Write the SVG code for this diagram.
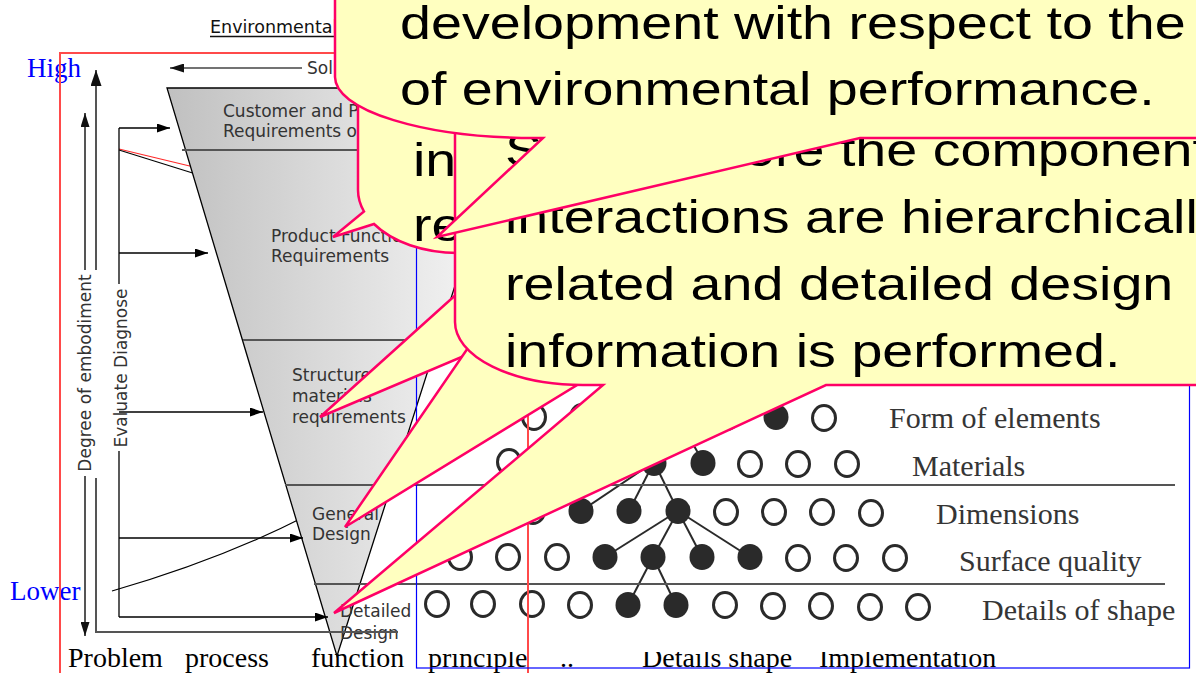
<svg xmlns="http://www.w3.org/2000/svg" width="1196" height="673" viewBox="0 0 1196 673">
<style>
.lbl{font-family:"DejaVu Sans",Verdana,sans-serif;font-size:17px;fill:#333}
.ttl{font-family:"DejaVu Sans",Verdana,sans-serif;font-size:17.5px;fill:#111}
.ser{font-family:"Liberation Serif","Times New Roman",serif;font-size:28px;fill:#000}
.scan{font-family:"Liberation Serif","Times New Roman",serif;font-size:30px;fill:#353535}
.blue{font-family:"Liberation Serif","Times New Roman",serif;font-size:27px;fill:#0000ff}
.co{fill:#FFFFC0;stroke:#FF0066;stroke-width:2.5;stroke-linejoin:miter}
.ct{font-family:"Liberation Sans",Arial,sans-serif;font-size:46px;fill:#000}
.arr{stroke:#000;stroke-width:1.3;fill:none;marker-end:url(#ah)}
.ax{stroke:#555;stroke-width:2;fill:none}
.div{stroke:#555;stroke-width:2}
.op{fill:#fff;stroke:#2a2a2a;stroke-width:3}
.fl{fill:#2a2a2a}
.tr{stroke:#2a2a2a;stroke-width:2}
</style>
<defs>
<linearGradient id="fg" gradientUnits="userSpaceOnUse" x1="167" y1="0" x2="470" y2="0">
<stop offset="0" stop-color="#c0c0c0"/><stop offset="1" stop-color="#f2f2f2"/>
</linearGradient>
<marker id="ah" markerUnits="userSpaceOnUse" markerWidth="13" markerHeight="9" refX="13" refY="4.5" orient="auto"><path d="M0,0 L13,4.5 L0,9 Z" fill="#000"/></marker>
<marker id="ahg" markerUnits="userSpaceOnUse" markerWidth="14" markerHeight="9" refX="14" refY="4.5" orient="auto"><path d="M0,0 L14,4.5 L0,9 Z" fill="#111"/></marker>
<marker id="ahb" markerUnits="userSpaceOnUse" markerWidth="16" markerHeight="11" refX="16" refY="5.5" orient="auto"><path d="M0,0 L16,5.5 L0,11 Z" fill="#111"/></marker>
</defs>
<rect width="1196" height="673" fill="#fff"/>

<g id="title">
<text class="ttl" x="210" y="33">Environmental</text>
<line x1="210" y1="36.5" x2="340" y2="36.5" stroke="#111" stroke-width="1.3"/>
</g>

<g id="axis-labels">
<text class="ser" x="68" y="667">Problem</text>
<text class="ser" x="185" y="667">process</text>
<text class="ser" x="311" y="667">function</text>
<text class="ser" x="428" y="667">principle</text>
<text class="ser" x="560" y="667">..</text>
<text class="ser" x="642" y="667">Details shape</text>
<text class="ser" x="819" y="667">Implementation</text>
</g>

<g id="scan">
<rect x="417" y="140" width="772" height="512" fill="#fff"/>
<g id="tree-lines">
<line class="tr" x1="678" y1="417" x2="654" y2="462"/>
<line class="tr" x1="678" y1="417" x2="703" y2="462"/>
<line class="tr" x1="654" y1="462" x2="581" y2="511"/>
<line class="tr" x1="654" y1="462" x2="629" y2="511"/>
<line class="tr" x1="654" y1="462" x2="678" y2="511"/>
<line class="tr" x1="678" y1="511" x2="605" y2="557"/>
<line class="tr" x1="678" y1="511" x2="653" y2="557"/>
<line class="tr" x1="678" y1="511" x2="702" y2="557"/>
<line class="tr" x1="678" y1="511" x2="750" y2="557"/>
<line class="tr" x1="653" y1="557" x2="628" y2="605"/>
<line class="tr" x1="653" y1="557" x2="676" y2="605"/>
</g>
<g id="row1">
<ellipse class="op" cx="534" cy="417" rx="11.5" ry="12.5"/>
<ellipse class="op" cx="582" cy="417" rx="11.5" ry="12.5"/>
<ellipse class="op" cx="630" cy="417" rx="11.5" ry="12.5"/>
<ellipse class="fl" cx="678" cy="417" rx="12.5" ry="13"/>
<ellipse class="op" cx="727" cy="417" rx="11.5" ry="12.5"/>
<ellipse class="fl" cx="776" cy="417" rx="12.5" ry="13"/>
<ellipse class="op" cx="824" cy="418" rx="11.5" ry="12.5"/>
<text class="scan" x="889" y="428">Form of elements</text>
</g>
<g id="row2">
<ellipse class="op" cx="509" cy="462" rx="11.5" ry="12.5"/>
<ellipse class="op" cx="557" cy="462" rx="11.5" ry="12.5"/>
<ellipse class="op" cx="606" cy="462" rx="11.5" ry="12.5"/>
<ellipse class="fl" cx="654" cy="463" rx="12.5" ry="13"/>
<ellipse class="fl" cx="703" cy="463" rx="12.5" ry="13"/>
<ellipse class="op" cx="750" cy="464" rx="11.5" ry="12.5"/>
<ellipse class="op" cx="798" cy="464" rx="11.5" ry="12.5"/>
<ellipse class="op" cx="847" cy="464" rx="11.5" ry="12.5"/>
<text class="scan" x="912" y="476">Materials</text>
</g>
<g id="row3">
<ellipse class="op" cx="484" cy="511" rx="11.5" ry="12.5"/>
<ellipse class="op" cx="533" cy="511" rx="11.5" ry="12.5"/>
<ellipse class="fl" cx="581" cy="511" rx="12.5" ry="13"/>
<ellipse class="fl" cx="629" cy="511" rx="12.5" ry="13"/>
<ellipse class="fl" cx="678" cy="511" rx="12.5" ry="13"/>
<ellipse class="op" cx="726" cy="512" rx="11.5" ry="12.5"/>
<ellipse class="op" cx="774" cy="512" rx="11.5" ry="12.5"/>
<ellipse class="op" cx="822" cy="512" rx="11.5" ry="12.5"/>
<ellipse class="op" cx="871" cy="513" rx="11.5" ry="12.5"/>
<text class="scan" x="936" y="524">Dimensions</text>
</g>
<g id="row4">
<ellipse class="op" cx="460" cy="557" rx="11.5" ry="12.5"/>
<ellipse class="op" cx="508" cy="557" rx="11.5" ry="12.5"/>
<ellipse class="op" cx="557" cy="557" rx="11.5" ry="12.5"/>
<ellipse class="fl" cx="605" cy="557" rx="12.5" ry="13"/>
<ellipse class="fl" cx="653" cy="557" rx="12.5" ry="13"/>
<ellipse class="fl" cx="702" cy="557" rx="12.5" ry="13"/>
<ellipse class="fl" cx="750" cy="557" rx="12.5" ry="13"/>
<ellipse class="op" cx="798" cy="558" rx="11.5" ry="12.5"/>
<ellipse class="op" cx="846" cy="558" rx="11.5" ry="12.5"/>
<ellipse class="op" cx="895" cy="558" rx="11.5" ry="12.5"/>
<text class="scan" x="959" y="571">Surface quality</text>
</g>
<g id="row5">
<ellipse class="op" cx="437" cy="604" rx="11.5" ry="12.5"/>
<ellipse class="op" cx="483" cy="604" rx="11.5" ry="12.5"/>
<ellipse class="op" cx="532" cy="604" rx="11.5" ry="12.5"/>
<ellipse class="op" cx="580" cy="605" rx="11.5" ry="12.5"/>
<ellipse class="fl" cx="628" cy="605" rx="12.5" ry="13"/>
<ellipse class="fl" cx="676" cy="605" rx="12.5" ry="13"/>
<ellipse class="op" cx="725" cy="605" rx="11.5" ry="12.5"/>
<ellipse class="op" cx="773" cy="606" rx="11.5" ry="12.5"/>
<ellipse class="op" cx="821" cy="606" rx="11.5" ry="12.5"/>
<ellipse class="op" cx="870" cy="607" rx="11.5" ry="12.5"/>
<ellipse class="op" cx="918" cy="607" rx="11.5" ry="12.5"/>
<text class="scan" x="982" y="620">Details of shape</text>
</g>
</g>

<g id="flow-curves">
<line x1="119" y1="149" x2="198" y2="168" stroke="#ff2a2a" stroke-width="1.2"/>
<line x1="119" y1="150" x2="199" y2="175" stroke="#000" stroke-width="1.2"/>
<path d="M112,591 Q220,560 306,516" fill="none" stroke="#000" stroke-width="1.2"/>
</g>

<g id="funnel">
<polygon points="167,88 518,88 337,656" fill="url(#fg)" stroke="#000" stroke-width="1.3"/>
<line class="div" x1="182" y1="150" x2="510" y2="150"/>
<line class="div" x1="243" y1="340" x2="440" y2="340"/>
<line class="div" x1="285" y1="485" x2="1175" y2="485"/>
<line class="div" x1="314" y1="584" x2="1165" y2="584"/>
</g>

<g id="stage-customer">
<text class="lbl" x="223" y="117">Customer and Product</text>
<text class="lbl" x="223" y="137">Requirements of</text>
</g>
<g id="stage-product">
<text class="lbl" x="271" y="242">Product Function</text>
<text class="lbl" x="271" y="262">Requirements</text>
</g>
<g id="stage-structure">
<text class="lbl" x="292" y="381">Structure</text>
<text class="lbl" x="292" y="402">materials</text>
<text class="lbl" x="292" y="423">requirements</text>
</g>
<g id="stage-general">
<text class="lbl" x="312" y="520">General</text>
<text class="lbl" x="312" y="540">Design</text>
</g>
<g id="stage-detailed">
<text class="lbl" x="340" y="617">Detailed</text>
<text class="lbl" x="340" y="639">Design</text>
</g>

<g id="connectors">
<line x1="85" y1="270" x2="85" y2="113" stroke="#555" stroke-width="2" marker-end="url(#ahg)"/>
<line x1="85" y1="476" x2="85" y2="636" stroke="#555" stroke-width="2" marker-end="url(#ahg)"/>
<line x1="96" y1="270" x2="96" y2="70" stroke="#555" stroke-width="2" marker-end="url(#ahb)"/>
<path class="ax" d="M96,478 L96,632 L398,632"/>
<line x1="119" y1="128" x2="119" y2="284" stroke="#000" stroke-width="1.3"/>
<line x1="119" y1="451" x2="119" y2="617" stroke="#000" stroke-width="1.3"/>
<line class="arr" x1="119" y1="128" x2="170" y2="128"/>
<line class="arr" x1="119" y1="253" x2="208" y2="253"/>
<line class="arr" x1="119" y1="412" x2="263" y2="412"/>
<line class="arr" x1="119" y1="538" x2="303" y2="538"/>
<line class="arr" x1="119" y1="617" x2="328" y2="617"/>
<line x1="302" y1="68" x2="170" y2="68" stroke="#444" stroke-width="1.5" marker-end="url(#ahg)"/>
</g>

<g id="axis-texts">
<text class="lbl" text-anchor="middle" transform="translate(91,373) rotate(-90)">Degree of embodiment</text>
<text class="lbl" text-anchor="middle" transform="translate(127,368) rotate(-90)">Evaluate Diagnose</text>
<text class="lbl" x="307" y="74">Solution</text>
<text class="blue" x="27" y="77">High</text>
<text class="blue" x="10" y="600">Lower</text>
</g>

<g id="frames">
<rect x="60" y="53" width="468" height="650" fill="none" stroke="#ff4a4a" stroke-width="2"/>
<rect x="416.5" y="140" width="773" height="528" fill="none" stroke="#0000ff" stroke-width="1.2"/>
</g>

<g id="callout-b">
<path class="co" d="M358,-10 L358,190 A100,63 0 0 0 364,211.5 L333,237 L374,224 A100,63 0 0 0 458,253 L1210,253 L1210,-10 Z"/>
<text class="ct" transform="translate(413,176) scale(1.21,1)">in</text>
<text class="ct" transform="translate(413,241) scale(1.21,1)">re</text>
</g>

<g id="callout-c">
<polygon class="co" points="320,417 480,273 490,345"/>
<polygon class="co" points="345,527 483,326 600,371"/>
<path class="co" d="M455,-10 L455,322 A128,63 0 0 0 583,385 L603,385 L334,613 L826,385 L1210,385 L1210,-10 Z"/>
<text class="ct" transform="translate(505,166) scale(1.21,1)">S</text>
<text class="ct" transform="translate(744,166) scale(1.21,1)">ore the components</text>
<text class="ct" transform="translate(505,233) scale(1.21,1)">interactions are hierarchically</text>
<text class="ct" transform="translate(505,300) scale(1.21,1)">related and detailed design</text>
<text class="ct" transform="translate(505,367) scale(1.21,1)">information is performed.</text>
</g>

<g id="callout-a">
<path class="co" d="M335,-10 L335,77 A200,61 0 0 0 535,138 L543,138 L437,237 L860,138 L1210,138 L1210,-10 Z"/>
<text class="ct" transform="translate(400,39) scale(1.21,1)">development with respect to the</text>
<text class="ct" transform="translate(400,105) scale(1.21,1)">of environmental performance.</text>
</g>
</svg>
